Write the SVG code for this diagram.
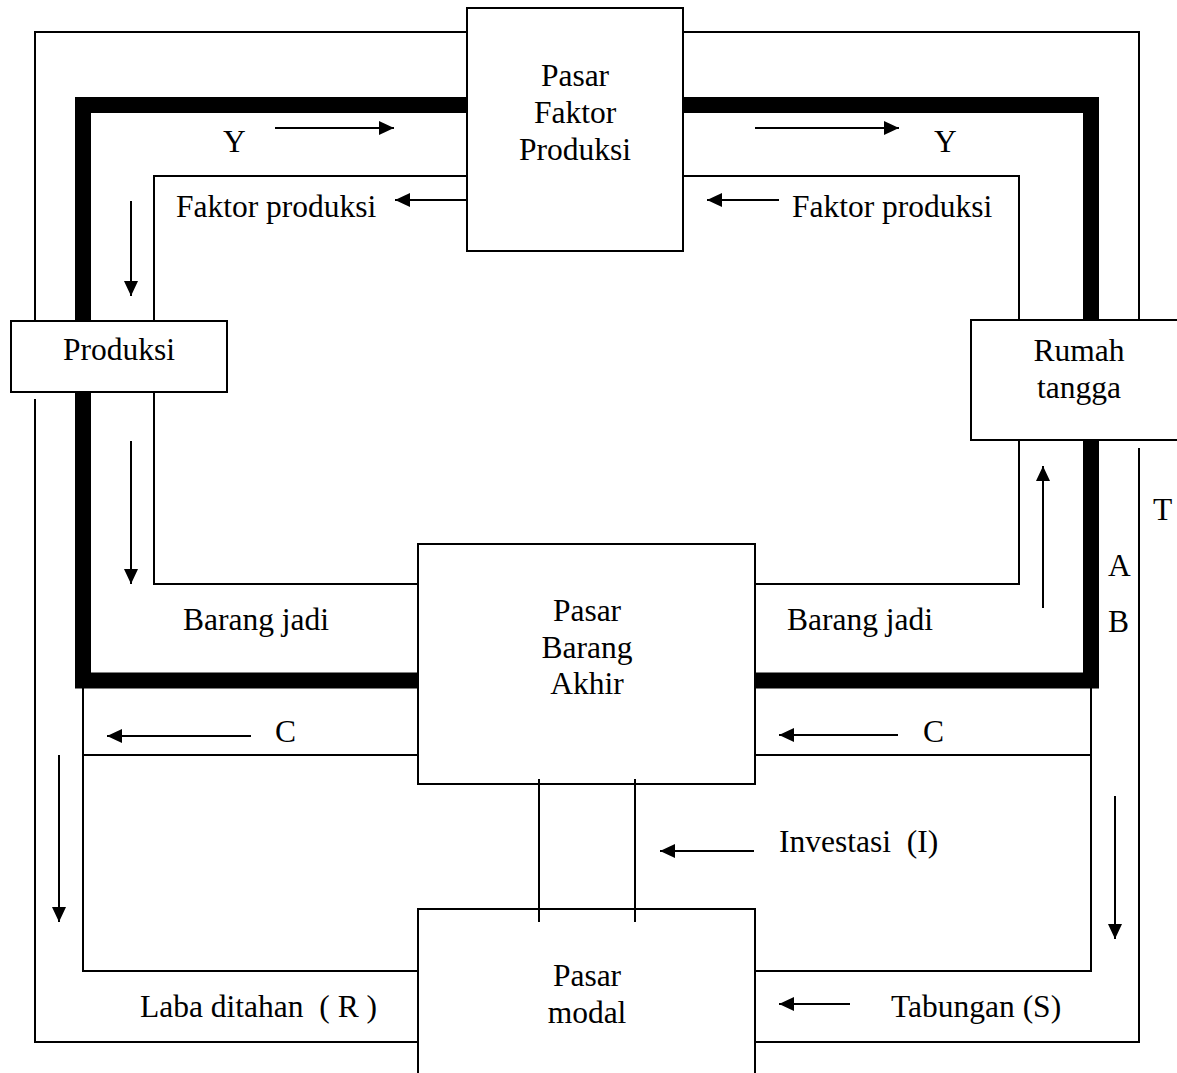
<svg xmlns="http://www.w3.org/2000/svg" width="1177" height="1073" viewBox="0 0 1177 1073">
<style>
  .box { fill: #fff; stroke: #000; stroke-width: 2; }
  .thin { fill: none; stroke: #000; stroke-width: 2; }
  .thick { fill: none; stroke: #000; stroke-width: 16; stroke-linejoin: miter; }
  .arr { fill: none; stroke: #000; stroke-width: 2; marker-end: url(#ah); }
  text { font-family: "Liberation Serif", "Times New Roman", serif; font-size: 31.5px; fill: #000; white-space: pre; }
  .c { text-anchor: middle; }
</style>
<defs>
  <marker id="ah" markerUnits="userSpaceOnUse" markerWidth="16" markerHeight="14" refX="15" refY="7" orient="auto">
    <path d="M0,0 L15,7 L0,14 z" fill="#000"/>
  </marker>
</defs>
<rect width="1177" height="1073" fill="#fff"/>

<g id="nodes">
  <g id="pasar-faktor-produksi">
    <rect class="box" x="467" y="8" width="216" height="243"/>
    <text class="c" x="575" y="86">Pasar</text>
    <text class="c" x="575" y="123">Faktor</text>
    <text class="c" x="575" y="160">Produksi</text>
  </g>
  <g id="produksi">
    <rect class="box" x="11" y="321" width="216" height="71"/>
    <text class="c" x="119" y="360">Produksi</text>
  </g>
  <g id="rumah-tangga">
    <rect class="box" x="971" y="320" width="230" height="120"/>
    <text class="c" x="1079" y="361">Rumah</text>
    <text class="c" x="1079" y="398">tangga</text>
  </g>
  <g id="pasar-barang-akhir">
    <rect class="box" x="418" y="544" width="337" height="240"/>
    <text class="c" x="587" y="621">Pasar</text>
    <text class="c" x="587" y="658">Barang</text>
    <text class="c" x="587" y="694">Akhir</text>
  </g>
  <g id="pasar-modal">
    <rect class="box" x="418" y="909" width="337" height="200"/>
    <text class="c" x="587" y="986">Pasar</text>
    <text class="c" x="587" y="1023">modal</text>
  </g>
</g>

<g id="connectors">
  <!-- thick circuit -->
  <path class="thick" d="M467,105 H83 V321"/>
  <path class="thick" d="M83,392 V680.5 H418"/>
  <path class="thick" d="M683,105 H1091 V320"/>
  <path class="thick" d="M1091,440 V680.5 H755"/>
  <!-- outer thin circuit -->
  <path class="thin" d="M467,32 H35 V321"/>
  <path class="thin" d="M35,399 V1042 H418"/>
  <path class="thin" d="M683,32 H1139 V320"/>
  <path class="thin" d="M1139,448 V1042 H755"/>
  <!-- inner thin circuit -->
  <path class="thin" d="M467,176 H154 V321"/>
  <path class="thin" d="M154,392 V584 H418"/>
  <path class="thin" d="M683,176 H1019 V320"/>
  <path class="thin" d="M1019,440 V584 H755"/>
  <!-- lower channels -->
  <path class="thin" d="M83,688 V971 H418"/>
  <path class="thin" d="M83,755 H418"/>
  <path class="thin" d="M1091,688 V971 H755"/>
  <path class="thin" d="M755,755 H1091"/>
  <path class="thin" d="M539,779 V922"/>
  <path class="thin" d="M635,779 V922"/>
  <!-- flow arrows -->
  <line class="arr" x1="275" y1="128" x2="394" y2="128"/>
  <line class="arr" x1="467" y1="200" x2="395" y2="200"/>
  <line class="arr" x1="131" y1="201" x2="131" y2="296"/>
  <line class="arr" x1="131" y1="441" x2="131" y2="584"/>
  <line class="arr" x1="755" y1="128" x2="899" y2="128"/>
  <line class="arr" x1="779" y1="200" x2="707" y2="200"/>
  <line class="arr" x1="1043" y1="608" x2="1043" y2="466"/>
  <line class="arr" x1="251" y1="736" x2="107" y2="736"/>
  <line class="arr" x1="898" y1="735" x2="779" y2="735"/>
  <line class="arr" x1="754" y1="851" x2="660" y2="851"/>
  <line class="arr" x1="850" y1="1004" x2="779" y2="1004"/>
  <line class="arr" x1="59" y1="755" x2="59" y2="922"/>
  <line class="arr" x1="1115" y1="796" x2="1115" y2="939"/>
</g>

<g id="labels">
  <text x="223" y="152">Y</text>
  <text x="176" y="217">Faktor produksi</text>
  <text x="934" y="152">Y</text>
  <text x="792" y="217">Faktor produksi</text>
  <text x="1153" y="520">T</text>
  <text x="1108" y="576">A</text>
  <text x="1108" y="632">B</text>
  <text x="183" y="630">Barang jadi</text>
  <text x="787" y="630">Barang jadi</text>
  <text x="275" y="742">C</text>
  <text x="923" y="742">C</text>
  <text x="779" y="852">Investasi  (I)</text>
  <text x="891" y="1017">Tabungan (S)</text>
  <text x="140" y="1017">Laba ditahan  ( R )</text>
</g>
</svg>
